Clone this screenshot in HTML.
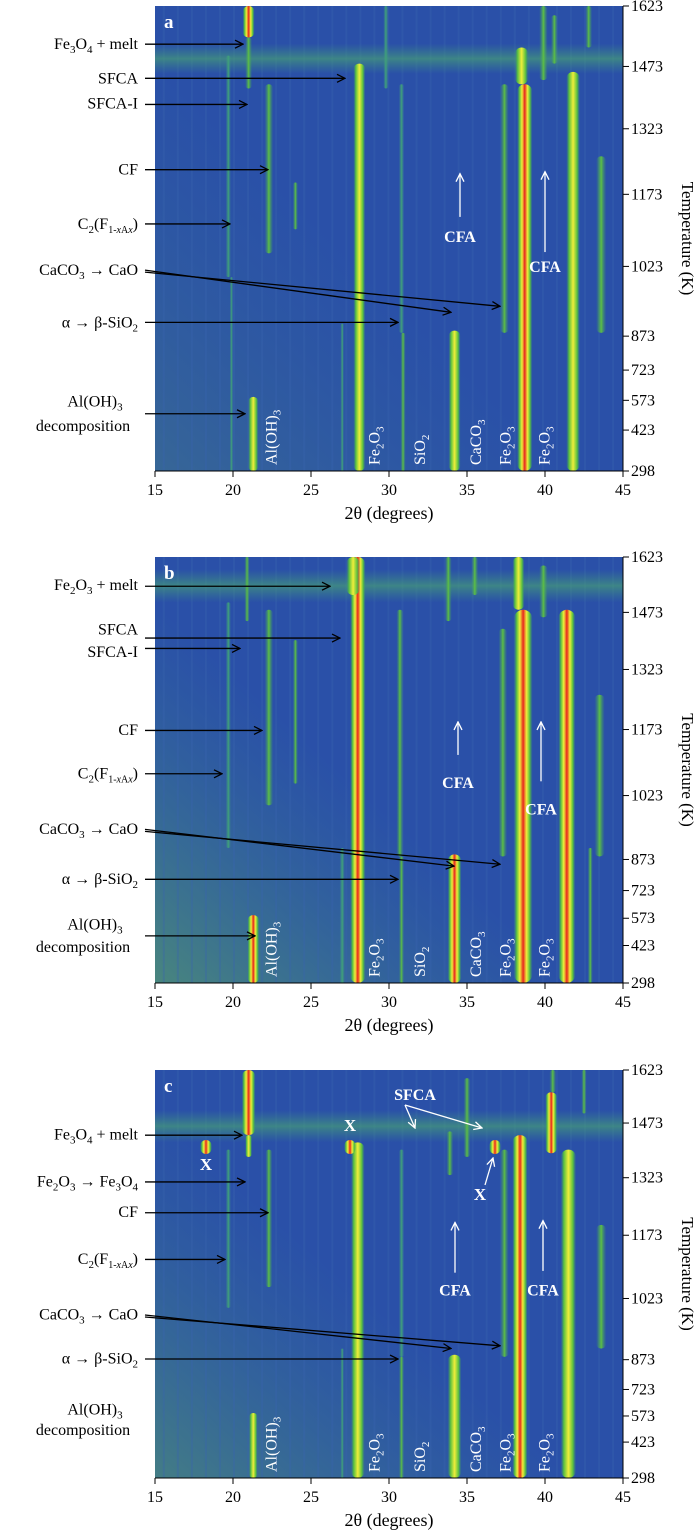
<!DOCTYPE html>
<html><head><meta charset="utf-8">
<style>
html,body{margin:0;padding:0;background:#fff;}
svg{display:block;}
text{font-family:"Liberation Serif",serif;}
</style></head>
<body>
<svg id="s" width="700" height="1539" viewBox="0 0 700 1539" xmlns="http://www.w3.org/2000/svg">
<defs>
<linearGradient id="gy" x1="0" x2="1" y1="0" y2="0">
<stop offset="0" stop-color="#3f9a60" stop-opacity="0"/><stop offset="0.2" stop-color="#58c040"/><stop offset="0.5" stop-color="#f0ee3a"/><stop offset="0.8" stop-color="#58c040"/><stop offset="1" stop-color="#3f9a60" stop-opacity="0"/>
</linearGradient>
<linearGradient id="gr" x1="0" x2="1" y1="0" y2="0">
<stop offset="0" stop-color="#3f9a60" stop-opacity="0"/><stop offset="0.15" stop-color="#58c040"/><stop offset="0.32" stop-color="#f0ee3a"/><stop offset="0.5" stop-color="#e8261e"/><stop offset="0.68" stop-color="#f0ee3a"/><stop offset="0.85" stop-color="#58c040"/><stop offset="1" stop-color="#3f9a60" stop-opacity="0"/>
</linearGradient>
<linearGradient id="gg" x1="0" x2="1" y1="0" y2="0">
<stop offset="0" stop-color="#3f9a60" stop-opacity="0"/><stop offset="0.5" stop-color="#5cbf45"/><stop offset="1" stop-color="#3f9a60" stop-opacity="0"/>
</linearGradient>
<linearGradient id="gf" x1="0" x2="1" y1="0" y2="0">
<stop offset="0" stop-color="#3f9a80" stop-opacity="0"/><stop offset="0.5" stop-color="#3fa07a"/><stop offset="1" stop-color="#3f9a80" stop-opacity="0"/>
</linearGradient>
<linearGradient id="haze" x1="0" x2="1" y1="1" y2="0">
<stop offset="0" stop-color="#6ac050" stop-opacity="0.8"/><stop offset="0.45" stop-color="#3f9a80" stop-opacity="0"/>
</linearGradient>
<linearGradient id="bandg" x1="0" x2="0" y1="0" y2="1">
<stop offset="0" stop-color="#3f9a7a" stop-opacity="0"/><stop offset="0.5" stop-color="#4aa870"/><stop offset="1" stop-color="#3f9a7a" stop-opacity="0"/>
</linearGradient>
<marker id="ab" markerWidth="10" markerHeight="10" refX="9" refY="5" orient="auto" markerUnits="userSpaceOnUse"><path d="M1,1 L9,5 L1,9" fill="none" stroke="#000" stroke-width="1.3"/></marker>
<marker id="aw" markerWidth="10" markerHeight="10" refX="9" refY="5" orient="auto" markerUnits="userSpaceOnUse"><path d="M1,1 L9,5 L1,9" fill="none" stroke="#fff" stroke-width="1.3"/></marker>
</defs>
</svg>
<script>
var S=document.getElementById('s');
var out='';
var XL=155,XR=623;
function X(d){return XL+(d-15)*(XR-XL)/30;}
var TT=[1623,1473,1323,1173,1023,873,723,573,423,298],TF=[0,.13,.264,.405,.56,.71,.783,.848,.912,1];
function fr(T){for(var i=0;i<TT.length-1;i++){if(T<=TT[i]&&T>=TT[i+1]){return TF[i]+(TT[i]-T)/(TT[i]-TT[i+1])*(TF[i+1]-TF[i]);}}return T>1623?0:1;}
var panels=[
{top:6,bot:471,tt:5,tb:468,name:'a',haze:0.25,
 lines:[[21.3,298,590,6,'gy'],[21.0,1545,1623,7,'gr'],[21.0,1420,1545,4,'gg'],[22.3,1050,1430,5,'gg'],[19.7,1000,1500,3,'gf'],[24.0,1100,1200,3,'gg'],[28.1,298,1480,7,'gy'],[30.9,298,880,3,'gg'],[30.8,880,1430,3,'gf'],[34.2,298,885,7,'gy'],[37.4,880,1430,5,'gg'],[38.7,298,1430,9,'gr'],[38.5,1430,1520,8,'gy'],[41.8,298,1460,8,'gy'],[43.6,880,1260,6,'gg'],[39.9,1440,1623,5,'gg'],[40.6,1480,1600,4,'gg'],[42.8,1520,1623,4,'gg'],[29.8,1420,1623,3,'gf'],[27.0,298,900,2,'gf'],[19.9,298,1000,2,'gf']],
 band:[1455,1530],
 arrows:[[43,243],[77,345],[103,247],[168,268],[222,230],[320,398],[411,245]],
 labels:[['Fe<tspan font-size="11" dy="4">3</tspan><tspan dy="-4">O</tspan><tspan font-size="11" dy="4">4</tspan><tspan dy="-4"> + melt</tspan>',48],['SFCA',82],['SFCA-I',107],['CF',173],['C<tspan font-size="11" dy="4">2</tspan><tspan dy="-4">(F</tspan><tspan font-size="10" dy="4">1-<tspan font-style="italic">x</tspan>A<tspan font-style="italic">x</tspan></tspan><tspan dy="-4">)</tspan>',227],['CaCO<tspan font-size="11" dy="4">3</tspan><tspan dy="-4"> → CaO</tspan>',273],['α → β-SiO<tspan font-size="11" dy="4">2</tspan>',325]],
 caco:[268,[451,310],[500,304]],al:[404,428],
 cfa:[[460,215,172,240],[545,250,170,270]],extra:''},
{top:557,bot:983,tt:530,tb:982,name:'b',haze:0.6,
 lines:[[21.3,298,590,7,'gr'],[20.9,1450,1623,3,'gg'],[22.3,1000,1480,5,'gg'],[24.0,1050,1400,3,'gg'],[19.7,900,1500,3,'gf'],[28.0,298,1623,9,'gr'],[27.7,1520,1623,8,'gy'],[30.8,298,880,3,'gg'],[30.7,880,1480,4,'gg'],[34.2,298,885,8,'gr'],[37.3,880,1430,5,'gg'],[38.6,298,1480,11,'gr'],[38.3,1480,1623,7,'gy'],[41.4,298,1480,10,'gr'],[43.5,880,1260,6,'gg'],[39.9,1460,1600,5,'gg'],[42.9,298,900,3,'gg'],[27.0,298,900,3,'gf'],[33.8,1450,1623,4,'gg'],[35.5,1520,1623,4,'gg']],
 band:[1500,1590],
 arrows:[[561,330],[616,340],[627,240],[714,262],[760,222],[872,398],[932,255]],
 labels:[['Fe<tspan font-size="11" dy="4">2</tspan><tspan dy="-4">O</tspan><tspan font-size="11" dy="4">3</tspan><tspan dy="-4"> + melt</tspan>',565],['SFCA',612],['SFCA-I',636],['CF',719],['C<tspan font-size="11" dy="4">2</tspan><tspan dy="-4">(F</tspan><tspan font-size="10" dy="4">1-<tspan font-style="italic">x</tspan>A<tspan font-style="italic">x</tspan></tspan><tspan dy="-4">)</tspan>',765],['CaCO<tspan font-size="11" dy="4">3</tspan><tspan dy="-4"> → CaO</tspan>',824],['α → β-SiO<tspan font-size="11" dy="4">2</tspan>',877]],
 caco:[819,[454,858],[500,856]],al:[925,949],
 cfa:[[458,740,705,775],[541,768,705,803]],extra:''},
{top:1070,bot:1478,tt:1042,tb:1505,name:'c',haze:0.5,
 lines:[[21.3,298,590,5,'gy'],[21.0,1440,1623,8,'gr'],[21.0,1380,1440,4,'gy'],[22.3,1050,1400,4,'gg'],[19.7,1000,1400,3,'gf'],[28.0,298,1420,8,'gy'],[30.8,298,880,3,'gg'],[30.8,880,1400,3,'gf'],[34.2,298,885,8,'gy'],[37.4,880,1400,5,'gg'],[38.4,298,1440,9,'gr'],[41.5,298,1400,9,'gy'],[40.4,1390,1560,7,'gr'],[40.5,1560,1623,4,'gg'],[43.6,900,1200,6,'gg'],[35.0,1380,1600,4,'gg'],[33.9,1330,1450,4,'gg'],[42.5,1500,1623,3,'gg'],[27.0,298,900,2,'gf']],
 band:[1420,1510],
 arrows:[[1116,242],[1169,245],[1204,268],[1257,225],[1370,398]],
 labels:[['Fe<tspan font-size="11" dy="4">3</tspan><tspan dy="-4">O</tspan><tspan font-size="11" dy="4">4</tspan><tspan dy="-4"> + melt</tspan>',1121],['Fe<tspan font-size="11" dy="4">2</tspan><tspan dy="-4">O</tspan><tspan font-size="11" dy="4">3</tspan><tspan dy="-4"> → Fe</tspan><tspan font-size="11" dy="4">3</tspan><tspan dy="-4">O</tspan><tspan font-size="11" dy="4">4</tspan>',1174],['CF',1209],['C<tspan font-size="11" dy="4">2</tspan><tspan dy="-4">(F</tspan><tspan font-size="10" dy="4">1-<tspan font-style="italic">x</tspan>A<tspan font-style="italic">x</tspan></tspan><tspan dy="-4">)</tspan>',1262],['CaCO<tspan font-size="11" dy="4">3</tspan><tspan dy="-4"> → CaO</tspan>',1325],['α → β-SiO<tspan font-size="11" dy="4">2</tspan>',1375]],
 caco:[1320,[451,1358],[500,1355]],al:[1433,1456],
 cfa:[[455,1272,1215,1298],[543,1270,1213,1298]],extra:'c'}
];
panels.forEach(function(p){
 var H=p.bot-p.top;
 function Y(T){return p.top+fr(T)*H;}
 function M(yt){return p.top+(yt-p.tt)*(H)/(p.tb-p.tt);}
 out+='<rect x="'+XL+'" y="'+p.top+'" width="'+(XR-XL)+'" height="'+H+'" fill="#2a50a8"/>';
 out+='<rect x="'+XL+'" y="'+p.top+'" width="'+(XR-XL)+'" height="'+H+'" fill="url(#haze)" opacity="'+p.haze+'"/>';
 for(var d=15.5;d<45;d+=0.9){out+='<rect x="'+X(d)+'" y="'+p.top+'" width="2" height="'+H+'" fill="#3a64b0" opacity="0.35"/>';}
 var b1=Y(p.band[1]),b0=Y(p.band[0]);
 out+='<rect x="'+XL+'" y="'+b1+'" width="'+(XR-XL)+'" height="'+(b0-b1)+'" fill="url(#bandg)" opacity="0.6"/>';
 p.lines.forEach(function(l){var w=l[3]*1.7;var y1=Y(l[2]),y2=Y(l[1]);out+='<rect x="'+(X(l[0])-w/2)+'" y="'+y1+'" width="'+w+'" height="'+(y2-y1)+'" rx="'+(w/2)+'" fill="url(#'+l[4]+')"/>';});
 var bl=[[22.8,'Al(OH)','3'],[29.4,'Fe','2','O','3'],[32.3,'SiO','2'],[35.9,'CaCO','3'],[37.8,'Fe','2','O','3'],[40.3,'Fe','2','O','3']];
 bl.forEach(function(b){var x=X(b[0]),y=p.bot-6;var t=b[1]+'<tspan font-size="11" dy="4">'+b[2]+'</tspan>';if(b[3])t+='<tspan dy="-4">'+b[3]+'</tspan><tspan font-size="11" dy="4">'+b[4]+'</tspan>';
  out+='<text transform="translate('+x+','+y+') rotate(-90)" font-size="16" fill="#fff">'+t+'</text>';});
 out+='<text x="164" y="'+(p.top+22)+'" font-size="19" font-weight="bold" fill="#fff">'+p.name+'</text>';
 out+='<line x1="'+XL+'" y1="'+p.bot+'" x2="'+XR+'" y2="'+p.bot+'" stroke="#000" stroke-width="1"/>';
 for(var k=0;k<=6;k++){var v=15+5*k,xx=X(v);out+='<line x1="'+xx+'" y1="'+p.bot+'" x2="'+xx+'" y2="'+(p.bot+6)+'" stroke="#000"/><text x="'+xx+'" y="'+(p.bot+24)+'" font-size="16" text-anchor="middle">'+v+'</text>';}
 out+='<text x="'+X(30)+'" y="'+(p.bot+48)+'" font-size="18" text-anchor="middle">2θ (degrees)</text>';
 out+='<line x1="'+XR+'" y1="'+p.top+'" x2="'+XR+'" y2="'+p.bot+'" stroke="#000"/>';
 TT.forEach(function(T){var y=Y(T);out+='<line x1="'+XR+'" y1="'+y+'" x2="'+(XR+6)+'" y2="'+y+'" stroke="#000"/><text x="'+(XR+8)+'" y="'+(y+5)+'" font-size="16">'+T+'</text>';});
 var ym=(p.top+p.bot)/2;
 out+='<text transform="translate(682,'+ym+') rotate(90)" font-size="17" text-anchor="middle">Temperature (K)</text>';
 p.labels.forEach(function(l){out+='<text x="138" y="'+M(l[1])+'" font-size="16" text-anchor="end">'+l[0]+'</text>';});
 out+='<text x="95" y="'+M(p.al[0])+'" font-size="16" text-anchor="middle">Al(OH)<tspan font-size="11" dy="4">3</tspan></text>';
 out+='<text x="83" y="'+M(p.al[1])+'" font-size="16" text-anchor="middle">decomposition</text>';
 p.arrows.forEach(function(a){var y=M(a[0]);out+='<line x1="145" y1="'+y+'" x2="'+a[1]+'" y2="'+y+'" stroke="#000" stroke-width="1.3" marker-end="url(#ab)"/>';});
 var cy=M(p.caco[0]);
 out+='<line x1="145" y1="'+cy+'" x2="'+p.caco[1][0]+'" y2="'+M(p.caco[1][1])+'" stroke="#000" stroke-width="1.3" marker-end="url(#ab)"/>';
 out+='<line x1="145" y1="'+(cy+2)+'" x2="'+p.caco[2][0]+'" y2="'+M(p.caco[2][1])+'" stroke="#000" stroke-width="1.3" marker-end="url(#ab)"/>';
 p.cfa.forEach(function(c){out+='<line x1="'+c[0]+'" y1="'+M(c[1])+'" x2="'+c[0]+'" y2="'+M(c[2])+'" stroke="#fff" stroke-width="1.3" marker-end="url(#aw)"/><text x="'+c[0]+'" y="'+M(c[3])+'" font-size="16" font-weight="bold" fill="#fff" text-anchor="middle">CFA</text>';});
 if(p.extra=='c'){
  [[206,1147,206,1170],[350,1147,350,1131],[495,1147,480,1200]].forEach(function(q){
   out+='<ellipse cx="'+q[0]+'" cy="'+q[1]+'" rx="6" ry="7" fill="url(#gr)"/>';
   out+='<text x="'+q[2]+'" y="'+q[3]+'" font-size="17" font-weight="bold" fill="#fff" text-anchor="middle">X</text>';});
  out+='<line x1="485" y1="1185" x2="493" y2="1158" stroke="#fff" stroke-width="1.3" marker-end="url(#aw)"/>';
  out+='<text x="415" y="1100" font-size="16" font-weight="bold" fill="#fff" text-anchor="middle">SFCA</text>';
  out+='<line x1="405" y1="1105" x2="415" y2="1128" stroke="#fff" stroke-width="1.3" marker-end="url(#aw)"/>';
  out+='<line x1="405" y1="1105" x2="482" y2="1128" stroke="#fff" stroke-width="1.3" marker-end="url(#aw)"/>';
 }
});
S.insertAdjacentHTML('beforeend',out);
</script>
</body></html>
